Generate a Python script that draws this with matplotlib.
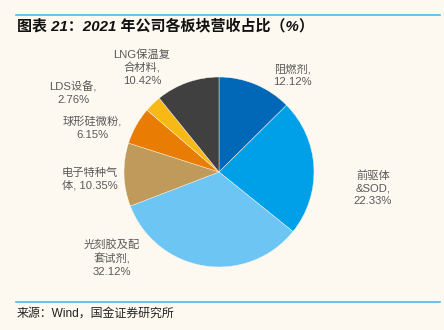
import matplotlib.pyplot as plt
from matplotlib.lines import Line2D

plt.rcParams['font.family'] = ['Liberation Sans', 'Noto Sans CJK SC', 'DejaVu Sans']

categories = ['阻燃剂', '前驱体&SOD', '光刻胶及配套试剂', '电子特种气体',
              '球形硅微粉', 'LDS设备', 'LNG保温复合材料']
shares = [12.12, 22.33, 32.12, 10.35, 6.15, 2.76, 10.42]
label_texts = ['阻燃剂,\n12.12%', '前驱体\n&SOD,\n22.33%', '光刻胶及配\n套试剂,\n32.12%',
               '电子特种气\n体, 10.35%', '球形硅微粉,\n6.15%', 'LDS设备,\n2.76%',
               'LNG保温复\n合材料,\n10.42%']
colors = ['#0068b7', '#00a0e9', '#6cc5f3', '#bf9a5a', '#e97d04', '#f7b916', '#404040']

bg = '#fdf9f0'
W, H = 444, 330
fig = plt.figure(figsize=(W / 100, H / 100), dpi=100, facecolor=bg)

# pie: center (219,172) px, radius 95 px
cx, cy, r = 219, 172, 95
ax = fig.add_axes([(cx - r) / W, (H - cy - r) / H, 2 * r / W, 2 * r / H])
ax.set_facecolor(bg)
ax.pie(shares, colors=colors, startangle=90, counterclock=False,
       wedgeprops=dict(edgecolor=bg, linewidth=0.3))
ax.set_xlim(-1, 1)
ax.set_ylim(-1, 1)
ax.axis('off')

# label positions in pixels (center x, center y)
label_pos = [(292, 75), (373, 188), (112, 258), (90, 179), (92, 128), (73, 93), (142, 68)]
for txt, (px, py) in zip(label_texts, label_pos):
    fig.text(px / W, 1 - py / H, txt, ha='center', va='center', fontsize=8.1,
             color='#595959', linespacing=1.3)

# header / footer
line_c = '#4fb8ea'
fig.add_artist(Line2D([16 / W, 440 / W], [1 - 15 / H, 1 - 15 / H], color=line_c, lw=1.2))
fig.add_artist(Line2D([16 / W, 440 / W], [1 - 302 / H, 1 - 302 / H], color=line_c, lw=1.2))
fig.text(17 / W, 1 - 26 / H, '图表 21：2021 年公司各板块营收占比（%）', ha='left', va='center',
         fontsize=10.8, fontweight='bold', style='italic', color='#111111')
fig.text(17 / W, 1 - 314 / H, '来源：Wind，国金证券研究所', ha='left', va='center',
         fontsize=8.6, color='#222222')

fig.savefig('out.png', dpi=100, facecolor=bg)
